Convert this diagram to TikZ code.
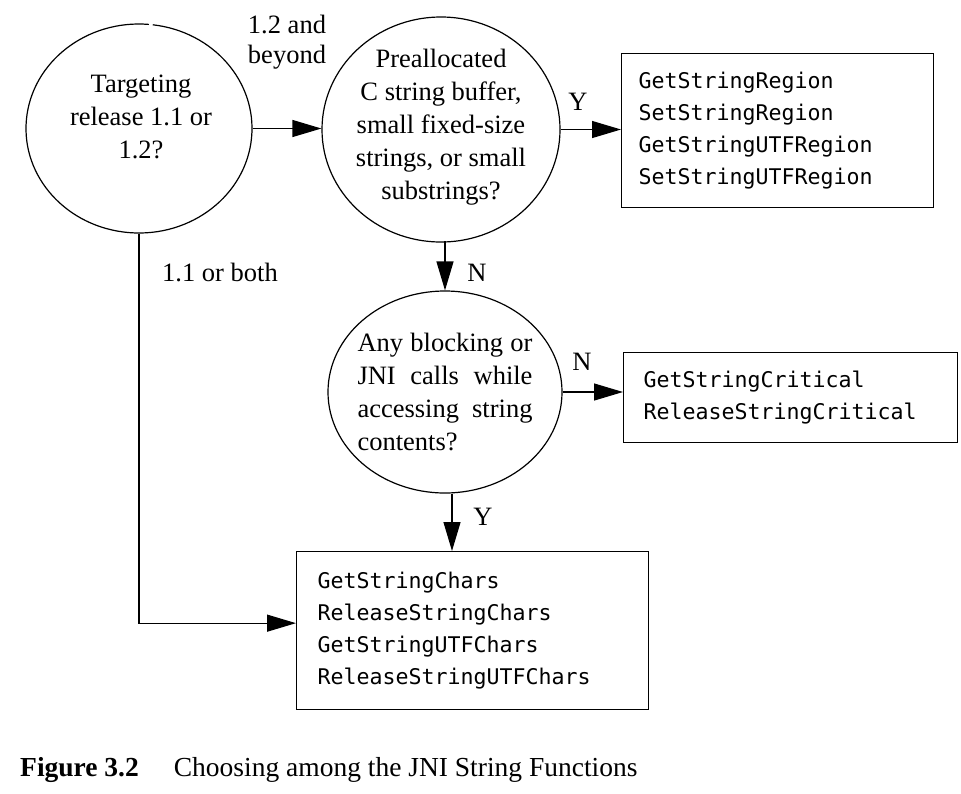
\documentclass[tikz,border=0pt]{standalone}
\usepackage{fontspec}
\setmainfont{Liberation Serif}
\newfontfamily\monof{DejaVu Sans Mono}
\usetikzlibrary{shapes.geometric,arrows.meta,calc}
\begin{document}
\begin{tikzpicture}[x=1pt,y=-1pt,
  txt/.style={font=\fontsize{26.5}{33}\selectfont, align=center, inner sep=0pt},
  lab/.style={font=\fontsize{26.5}{30}\selectfont, align=center, inner sep=0pt},
  qnode/.style={ellipse, line width=1.2pt, inner sep=0pt},
  fnbox/.style={rectangle, draw, line width=1.3pt, anchor=north west, align=left,
    inner ysep=0pt, font=\monof\fontsize{21.6}{32}\selectfont},
  arr/.style={line width=1.2pt, -{Triangle[length=29pt,width=17pt]}}]
\useasboundingbox (0,0) rectangle (961,793);

% decision nodes
\node[qnode, minimum width=226pt, minimum height=209pt] (q1) at (139,128.5) {};
\draw[line width=1.2pt] ($(q1.center)+(85:113pt and 104.5pt)$)
  arc[start angle=85, end angle=443, x radius=113pt, y radius=104.5pt];
\node[txt] (t1) at (141,117) {Targeting\\release 1.1 or\\1.2?};

\node[qnode, draw, minimum width=238pt, minimum height=225pt] (q2) at (441,129.5) {};
\node[txt] (t2) at (441,127) {Preallocated\\C string buffer,\\small fixed-size\\strings, or small\\substrings?};

\node[qnode, draw, minimum width=234pt, minimum height=202pt] (q3) at (445,392) {};
\node[txt, align=left] (t3) at (445,391.5) {%
  \makebox[175pt][s]{Any blocking or}\\
  \makebox[175pt][s]{JNI calls while}\\
  \makebox[175pt][s]{accessing string}\\
  \makebox[175pt][l]{contents?}};

% function boxes
\node[fnbox, inner xsep=17pt, text width=278pt, minimum width=312pt, minimum height=154pt] (b1) at (621,53)
  {GetStringRegion\\SetStringRegion\\GetStringUTFRegion\\SetStringUTFRegion};
\node[fnbox, inner xsep=20pt, text width=294pt, minimum width=334pt, minimum height=90pt] (b2) at (623,352)
  {GetStringCritical\\ReleaseStringCritical};
\node[fnbox, inner xsep=21pt, text width=310pt, minimum width=352pt, minimum height=158pt] (b3) at (296,551)
  {GetStringChars\\ReleaseStringChars\\GetStringUTFChars\\ReleaseStringUTFChars};

% connectors
\draw[arr] (q1.east) -- (q1.east -| q2.west);
\coordinate (c1) at ([yshift=7.5pt]b3.west);
\draw[arr] (q1.south) |- (c1);
\draw[arr] (q2.east) -- (q2.east -| b1.west);
\coordinate (c2) at ($(q3.north)+(0,-49)$);
\draw[arr] (c2) -- (q3.north);
\draw[arr] (q3.east) -- (q3.east -| b2.west);
\coordinate (c3) at ([xshift=7pt]q3.south);
\draw[arr] (c3) -- (c3 |- b3.north);

% labels
\node[lab] (l1) at (287,42) {1.2 and\\beyond};
\node[lab] (l2) at (220,272) {1.1 or both};
\node[lab] (l3) at (578,102) {Y};
\node[lab] (l4) at (477,273) {N};
\node[lab] (l5) at (582,362) {N};
\node[lab] (l6) at (483,517) {Y};

% caption
\node[anchor=west, inner sep=0pt, font=\fontsize{27.5}{33}\selectfont] (cap) at (20,770)
  {\textbf{Figure 3.2}\hspace{35pt}Choosing among the JNI String Functions};
\end{tikzpicture}
\end{document}
